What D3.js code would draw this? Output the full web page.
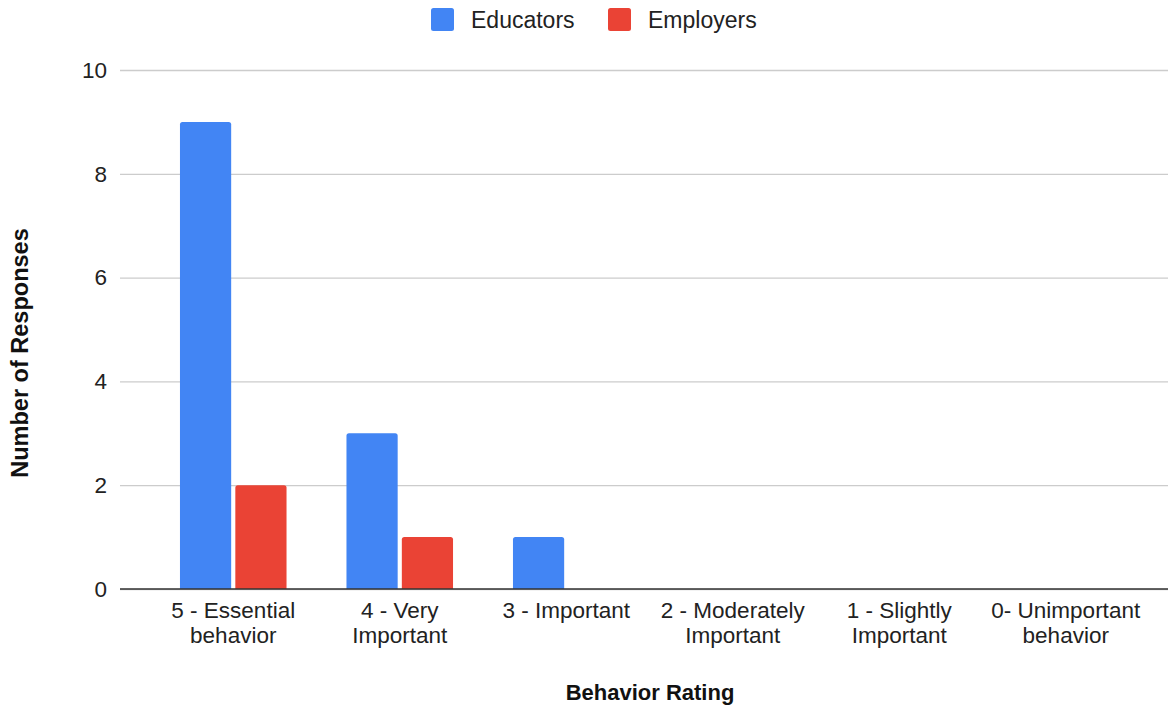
<!DOCTYPE html>
<html>
<head>
<meta charset="utf-8">
<script src="https://cdn.jsdelivr.net/npm/d3@7"></script>
<style>
  html, body { margin: 0; padding: 0; background: #fff; }
  svg { display: block; font-family: "Liberation Sans", Arial, sans-serif; }
</style>
</head>
<body>
<svg id="chart" width="1170" height="707"></svg>
<script>
const categories = ["5 - Essential\nbehavior", "4 - Very\nImportant", "3 - Important", "2 - Moderately\nImportant", "1 - Slightly\nImportant", "0- Unimportant\nbehavior"];
const seriesNames = ["Educators", "Employers"];
const educators = [9, 3, 1, 0, 0, 0];
const employers = [2, 1, 0, 0, 0, 0];
const yTicks = [0, 2, 4, 6, 8, 10];
const colors = ["#4285F4", "#EA4335"];

const svg = d3.select("#chart");
const plotLeft = 120, plotRight = 1168, plotTop = 70, plotBottom = 589;

const x = d3.scaleBand().domain(d3.range(categories.length)).range([150, 1149]).paddingInner(0.36).paddingOuter(0.18);
const xs = d3.scaleBand().domain(seriesNames).range([0, x.bandwidth()]).paddingInner(0.075);
const y = d3.scaleLinear().domain([0, 10]).range([plotBottom, plotTop]);

// gridlines
const grid = svg.append("g").attr("transform", `translate(${plotLeft},0)`)
  .call(d3.axisLeft(y).tickValues(yTicks).tickSize(-(plotRight - plotLeft)).tickFormat(""));
grid.select(".domain").remove();
grid.selectAll("line").attr("stroke", "#cccccc").attr("stroke-width", 1.3);

// y tick labels
const yAxis = svg.append("g").attr("transform", `translate(${plotLeft},0)`)
  .call(d3.axisLeft(y).tickValues(yTicks).tickSize(0).tickPadding(13));
yAxis.select(".domain").remove();
yAxis.selectAll("text").attr("font-size", 22.5).attr("fill", "#222").style("font-family", '"Liberation Sans", Arial, sans-serif');

// bars
const data = [educators, employers];
function barPath(x0, w, yTop, yBase, r) {
  const h = yBase - yTop;
  if (h <= 0) return "";
  r = Math.min(r, h, w / 2);
  return `M${x0},${yBase}V${yTop + r}Q${x0},${yTop} ${x0 + r},${yTop}H${x0 + w - r}Q${x0 + w},${yTop} ${x0 + w},${yTop + r}V${yBase}Z`;
}
seriesNames.forEach((s, si) => {
  svg.append("g").selectAll("path").data(data[si]).join("path")
    .attr("d", (v, i) => barPath(x(i) + xs(s), xs.bandwidth(), y(v), y(0), 2.5))
    .attr("fill", colors[si]);
});

// baseline
svg.append("line").attr("x1", plotLeft).attr("x2", plotRight).attr("y1", y(0)).attr("y2", y(0))
  .attr("stroke", "#333").attr("stroke-width", 1.5);

// x category labels (one text per line)
const xl = svg.append("g");
categories.forEach((c, i) => {
  c.split("\n").forEach((line, li) => {
    xl.append("text").attr("x", x(i) + x.bandwidth() / 2).attr("y", 618 + li * 25)
      .attr("text-anchor", "middle").attr("font-size", 22.5).attr("fill", "#222").text(line);
  });
});

// axis titles
svg.append("text").attr("x", 650).attr("y", 700).attr("text-anchor", "middle")
  .attr("font-size", 22).attr("font-weight", "bold").attr("fill", "#111").text("Behavior Rating");
svg.append("text").attr("transform", "translate(28,353) rotate(-90)").attr("text-anchor", "middle")
  .attr("font-size", 23.5).attr("font-weight", "bold").attr("fill", "#111").text("Number of Responses");

// legend
const legendX = [431, 608];
seriesNames.forEach((s, si) => {
  const g = svg.append("g").attr("transform", `translate(${legendX[si]},8)`);
  g.append("rect").attr("width", 23).attr("height", 23).attr("rx", 2.5).attr("fill", colors[si]);
  g.append("text").attr("x", 40).attr("y", 19.5).attr("font-size", 23).attr("fill", "#222").text(s);
});
</script>
</body>
</html>
